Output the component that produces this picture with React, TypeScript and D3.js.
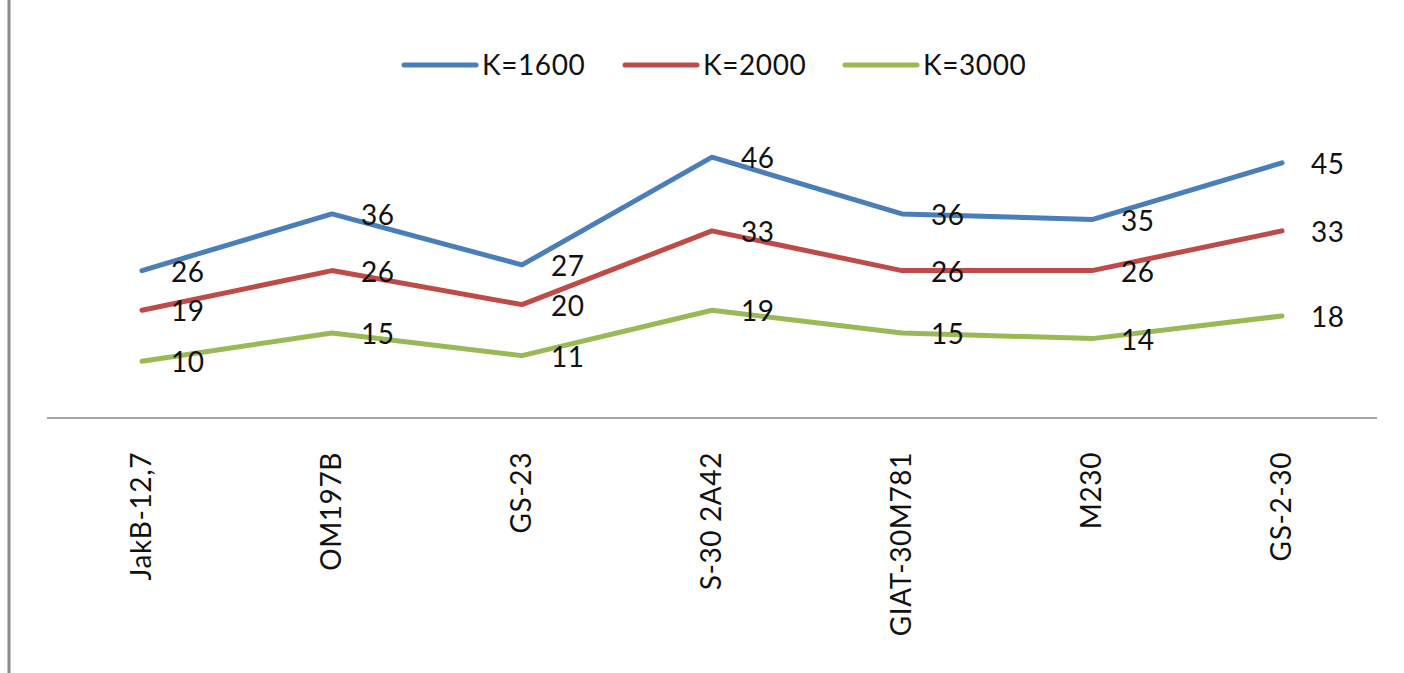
import React, { useEffect, useRef } from 'react';
import * as d3 from 'd3';

const categories = ['JakB-12,7', 'OM197B', 'GS-23', 'S-30 2A42', 'GIAT-30M781', 'M230', 'GS-2-30'];
const seriesNames = ['K=1600', 'K=2000', 'K=3000'];
const k1600 = [26, 36, 27, 46, 36, 35, 45];
const k2000 = [19, 26, 20, 33, 26, 26, 33];
const k3000 = [10, 15, 11, 19, 15, 14, 18];
const colors = ['#4a7ebb', '#be4b48', '#98b954'];

export default function App() {
  const ref = useRef<SVGSVGElement>(null);

  useEffect(() => {
    const width = 1404;
    const height = 673;
    const margin = { left: 47, right: 27, axisY: 418 };
    const font = 'Lato, Calibri, sans-serif';
    const fontSize = 28;
    const spacing = 0.6;

    const svg = d3.select(ref.current);
    svg.selectAll('*').remove();

    svg.append('rect').attr('width', width).attr('height', height).attr('fill', '#fff');

    // chart area border (only left edge is visible)
    svg
      .append('line')
      .attr('x1', 9)
      .attr('x2', 9)
      .attr('y1', 0)
      .attr('y2', height)
      .attr('stroke', '#8c8c8c')
      .attr('stroke-width', 3);

    const series = [k1600, k2000, k3000].map((values, i) => ({
      name: seriesNames[i],
      color: colors[i],
      values,
    }));

    const xScale = d3
      .scaleBand()
      .domain(categories)
      .range([margin.left, width - margin.right]);

    const yScale = d3
      .scaleLinear()
      .domain([0, 50])
      .range([margin.axisY, margin.axisY - 5.67 * 50]);

    const xCenter = (c: string) => (xScale(c) as number) + xScale.bandwidth() / 2;

    // category axis
    svg
      .append('line')
      .attr('x1', margin.left)
      .attr('x2', width - margin.right)
      .attr('y1', margin.axisY)
      .attr('y2', margin.axisY)
      .attr('stroke', '#868686')
      .attr('stroke-width', 1.5);

    svg
      .append('g')
      .selectAll('text')
      .data(categories)
      .enter()
      .append('text')
      .attr('transform', (d) => `translate(${xCenter(d) + 9}, ${margin.axisY + 34}) rotate(-90)`)
      .attr('text-anchor', 'end')
      .attr('font-family', font)
      .attr('font-size', fontSize)
      .attr('letter-spacing', spacing)
      .attr('fill', '#111')
      .text((d) => d);

    const line = d3
      .line<number>()
      .x((_, i) => xCenter(categories[i]))
      .y((d) => yScale(d));

    const groups = svg.append('g').selectAll('g').data(series).enter().append('g');

    groups
      .append('path')
      .attr('d', (d) => line(d.values))
      .attr('fill', 'none')
      .attr('stroke', (d) => d.color)
      .attr('stroke-width', 5)
      .attr('stroke-linecap', 'round')
      .attr('stroke-linejoin', 'round');

    groups
      .selectAll('text')
      .data((d) => d.values)
      .enter()
      .append('text')
      .attr('x', (_, i) => xCenter(categories[i]) + 29)
      .attr('y', (d) => yScale(d) + 11)
      .attr('font-family', font)
      .attr('font-size', fontSize)
      .attr('letter-spacing', spacing)
      .attr('fill', '#111')
      .text((d) => d);

    // legend
    const legendX = [404, 625, 845];
    const legend = svg
      .append('g')
      .selectAll('g')
      .data(series)
      .enter()
      .append('g')
      .attr('transform', (_, i) => `translate(${legendX[i]}, 65)`);

    legend
      .append('line')
      .attr('x1', 0)
      .attr('x2', 72)
      .attr('stroke', (d) => d.color)
      .attr('stroke-width', 5)
      .attr('stroke-linecap', 'round');

    legend
      .append('text')
      .attr('x', 78)
      .attr('y', 10)
      .attr('font-family', font)
      .attr('font-size', fontSize)
      .attr('letter-spacing', spacing)
      .attr('fill', '#111')
      .text((d) => d.name);
  }, []);

  return (
    <div style={{ position: 'absolute', left: 0, top: 0 }}>
      <svg ref={ref} width={1404} height={673} style={{ display: 'block' }} />
    </div>
  );
}
